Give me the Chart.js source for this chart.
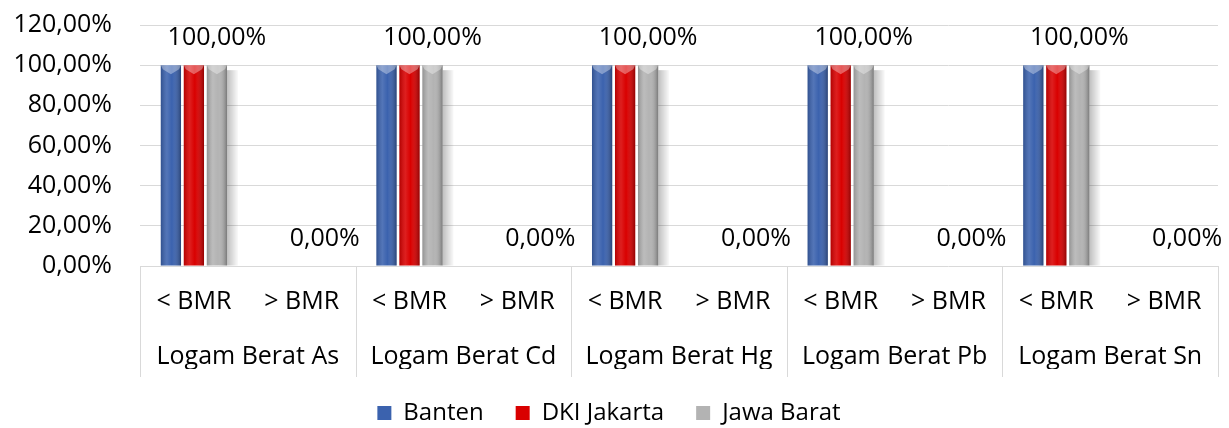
<!DOCTYPE html>
<html>
<head>
<meta charset="utf-8">
<script src="https://cdn.jsdelivr.net/npm/chart.js@4.4.1/dist/chart.umd.min.js"></script>
<style>
  html, body { margin: 0; padding: 0; background: #fff; }
  #wrap { width: 1229px; height: 428px; }
</style>
</head>
<body>
<div id="wrap"><canvas id="bmrChart"></canvas></div>
<script>
const groups = ["Logam Berat As", "Logam Berat Cd", "Logam Berat Hg", "Logam Berat Pb", "Logam Berat Sn"];
const bmrLabels = ["< BMR", "> BMR", "< BMR", "> BMR", "< BMR", "> BMR", "< BMR", "> BMR", "< BMR", "> BMR"];
const banten = [100, 0, 100, 0, 100, 0, 100, 0, 100, 0];
const dkiJakarta = [100, 0, 100, 0, 100, 0, 100, 0, 100, 0];
const jawaBarat = [100, 0, 100, 0, 100, 0, 100, 0, 100, 0];
const yTicks = [0, 20, 40, 60, 80, 100, 120];

const FONT = "'Open Sans', 'Noto Sans', sans-serif";
const GRID = "#d9d9d9";

const fmtPct = (v) => v.toFixed(2).replace(".", ",") + "%";

// shadow behind the grey bars, bevel shading on every bar
const barShading = {
  id: "barShading",
  beforeDatasetsDraw(chart) {
    const ctx = chart.ctx;
    const last = chart.data.datasets.length - 1;
    chart.getDatasetMeta(last).data.forEach((bar) => {
      if (bar.base - bar.y < 1) return;
      const x0 = bar.x + bar.width / 2;
      const g = ctx.createLinearGradient(x0, 0, x0 + 11, 0);
      g.addColorStop(0, "rgba(0,0,0,0.25)");
      g.addColorStop(1, "rgba(0,0,0,0.02)");
      ctx.save();
      ctx.fillStyle = g;
      ctx.fillRect(x0, bar.y + 5, 11, bar.base - bar.y - 5);
      ctx.restore();
    });
  },
  afterDatasetsDraw(chart) {
    const ctx = chart.ctx;
    chart.data.datasets.forEach((ds, di) => {
      chart.getDatasetMeta(di).data.forEach((bar) => {
        const h = bar.base - bar.y;
        if (h < 1) return;
        const l = bar.x - bar.width / 2;
        const r = bar.x + bar.width / 2;
        const g = ctx.createLinearGradient(l, 0, r, 0);
        g.addColorStop(0, "rgba(0,0,0,0.18)");
        g.addColorStop(0.3, "rgba(255,255,255,0.12)");
        g.addColorStop(0.55, "rgba(255,255,255,0)");
        g.addColorStop(1, "rgba(0,0,0,0.32)");
        ctx.save();
        ctx.fillStyle = g;
        ctx.fillRect(l, bar.y, bar.width, h);
        ctx.fillStyle = "rgba(255,255,255,0.35)";
        ctx.beginPath();
        ctx.moveTo(l, bar.y);
        ctx.lineTo(r, bar.y);
        ctx.lineTo(r - 2, bar.y + 4);
        ctx.lineTo(bar.x, bar.y + 9);
        ctx.lineTo(l + 2, bar.y + 4);
        ctx.closePath();
        ctx.fill();
        ctx.restore();
      });
    });
  }
};

// value labels over the Jawa Barat bars
const valueLabels = {
  id: "valueLabels",
  afterDatasetsDraw(chart) {
    const ctx = chart.ctx;
    const last = chart.data.datasets.length - 1;
    const values = chart.data.datasets[last].data;
    ctx.save();
    ctx.font = "25px " + FONT;
    ctx.fillStyle = "#000";
    ctx.textAlign = "center";
    ctx.textBaseline = "middle";
    chart.getDatasetMeta(last).data.forEach((bar, i) => {
      ctx.fillText(fmtPct(values[i]), bar.x, bar.y - 27);
    });
    ctx.restore();
  }
};

// vertical separators between the metal groups under the plot
const groupLines = {
  id: "groupLines",
  afterDraw(chart) {
    const ctx = chart.ctx;
    const area = chart.chartArea;
    const outer = chart.scales.x2;
    const step = area.width / groups.length;
    ctx.save();
    ctx.strokeStyle = GRID;
    ctx.lineWidth = 1;
    for (let i = 0; i <= groups.length; i++) {
      const x = Math.round(area.left + i * step) + 0.5;
      ctx.beginPath();
      ctx.moveTo(x, area.bottom);
      ctx.lineTo(x, outer.bottom + 8);
      ctx.stroke();
    }
    ctx.restore();
  }
};

const ctx = document.getElementById("bmrChart").getContext("2d");
new Chart(ctx, {
  type: "bar",
  data: {
    labels: bmrLabels,
    datasets: [
      { label: "Banten", data: banten, backgroundColor: "#3b62ae" },
      { label: "DKI Jakarta", data: dkiJakarta, backgroundColor: "#d90000" },
      { label: "Jawa Barat", data: jawaBarat, backgroundColor: "#b3b3b3" }
    ]
  },
  options: {
    responsive: true,
    maintainAspectRatio: false,
    animation: false,
    datasets: { bar: { categoryPercentage: 0.64, barPercentage: 0.88 } },
    layout: { padding: { top: 0, right: 11, left: 0, bottom: -7 } },
    plugins: {
      tooltip: { enabled: false },
      legend: {
        position: "bottom",
        labels: {
          color: "#000",
          font: { family: FONT, size: 24 },
          boxWidth: 14,
          boxHeight: 14,
          padding: 32
        }
      }
    },
    scales: {
      x: {
        weight: 0,
        grid: { display: false, drawTicks: false },
        border: { display: false },
        ticks: { color: "#000", font: { family: FONT, size: 25 }, padding: 21, maxRotation: 0, autoSkip: false },
        afterFit: (scale) => { scale.height = 62; }
      },
      x2: {
        type: "category",
        position: "bottom",
        weight: 1,
        labels: groups,
        offset: true,
        grid: { display: false, drawTicks: false },
        border: { display: false },
        ticks: { color: "#000", font: { family: FONT, size: 25 }, padding: 14, maxRotation: 0, autoSkip: false },
        afterFit: (scale) => { scale.height = 41; }
      },
      y: {
        min: 0,
        max: 120,
        border: { display: false },
        grid: { color: GRID, lineWidth: 1, drawTicks: false },
        afterBuildTicks: (scale) => { scale.ticks = yTicks.map((v) => ({ value: v })); },
        ticks: { color: "#000", font: { family: FONT, size: 25 }, padding: 28, callback: (v) => fmtPct(v) },
        afterFit: (scale) => {
          scale.width = 140;
          scale.paddingTop = 25;
          scale.paddingBottom = 15;
        }
      }
    }
  },
  plugins: [barShading, valueLabels, groupLines]
});
</script>
</body>
</html>
